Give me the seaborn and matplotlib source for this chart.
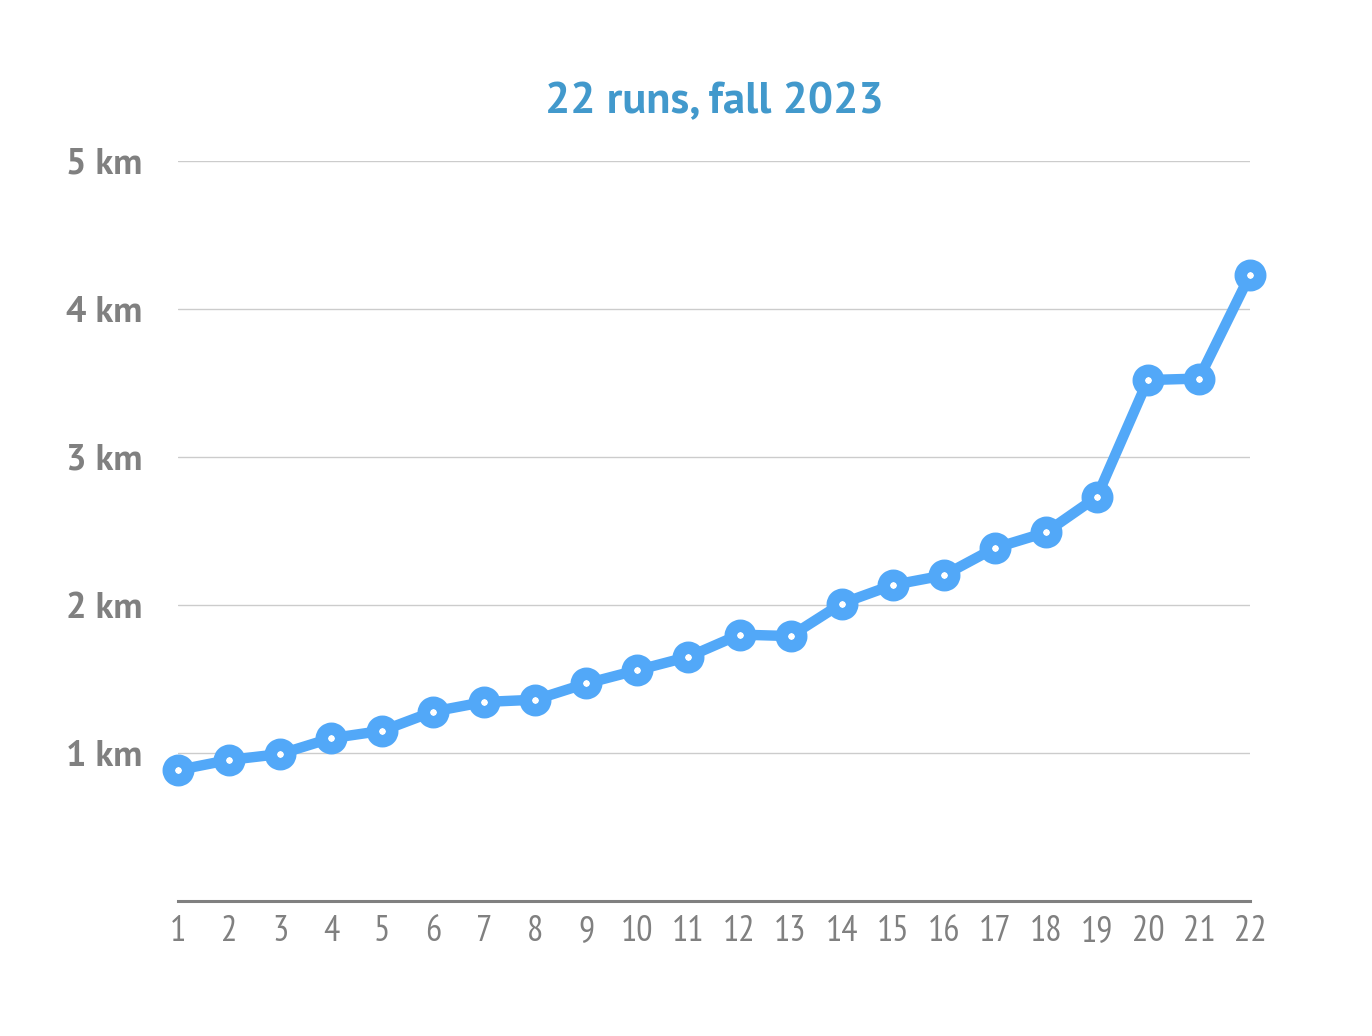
import matplotlib
matplotlib.use("Agg")
import matplotlib.pyplot as plt
from matplotlib import font_manager as fm
import seaborn as sns
import pandas as pd

runs = list(range(1, 23))
distance_km = [0.885, 0.953, 0.993, 1.10, 1.15, 1.28, 1.345, 1.36, 1.47, 1.56, 1.65,
               1.80, 1.79, 2.01, 2.135, 2.20, 2.385, 2.49, 2.73, 3.52, 3.53, 4.23]
y_ticks = [1, 2, 3, 4, 5]
y_tick_labels = ["1 km", "2 km", "3 km", "4 km", "5 km"]
title = "22 runs, fall 2023"

df = pd.DataFrame({"run": runs, "km": distance_km})

sns.set_theme(style="white")
available = {f.name for f in fm.fontManager.ttflist}
def pick(prefs):
    return [p for p in prefs if p in available] + ['DejaVu Sans']
narrow = pick(['PT Sans Narrow', 'Fira Sans Condensed', 'Roboto Condensed', 'Lato'])
bold = pick(['PT Sans', 'Source Sans 3', 'Fira Sans', 'Lato'])
plt.rcParams['font.family'] = narrow

fig = plt.figure(figsize=(13.72, 10.36), dpi=100)
ax = fig.add_axes([178/1372, 1-901/1036, (1250-178)/1372, (901-161)/1036])

blue = "#52A8F8"
sns.lineplot(data=df, x="run", y="km", ax=ax, color=blue, linewidth=7.5,
             marker="o", markersize=14, markerfacecolor="white",
             markeredgecolor=blue, markeredgewidth=9, clip_on=False, zorder=5)

ax.set_xlim(1, 22)
ax.set_ylim(0, 5)
ax.set_xticks(runs)
ax.set_xticklabels([str(r) for r in runs], fontsize=26, color="#808080")
ax.set_yticks(y_ticks)
ax.set_yticklabels(y_tick_labels, fontsize=26, color="#808080", fontweight="bold",
                   family=bold, va="center_baseline")
ax.tick_params(axis="x", length=0, pad=10)
ax.tick_params(axis="y", length=0, pad=26)
ax.set_xlabel("")
ax.set_ylabel("")
ax.grid(axis="y", color="#cccccc", linewidth=1)
ax.grid(axis="x", visible=False)
for s in ["top", "right", "left"]:
    ax.spines[s].set_visible(False)
ax.spines["bottom"].set_color("#808080")
ax.spines["bottom"].set_linewidth(2.2)

fig.text((178+1250)/2/1372, 1-102/1036, title, ha="center", va="center",
         fontsize=32, fontweight="bold", color="#4299CC", family=bold)

fig.savefig("out.png", dpi=100, facecolor="white")
